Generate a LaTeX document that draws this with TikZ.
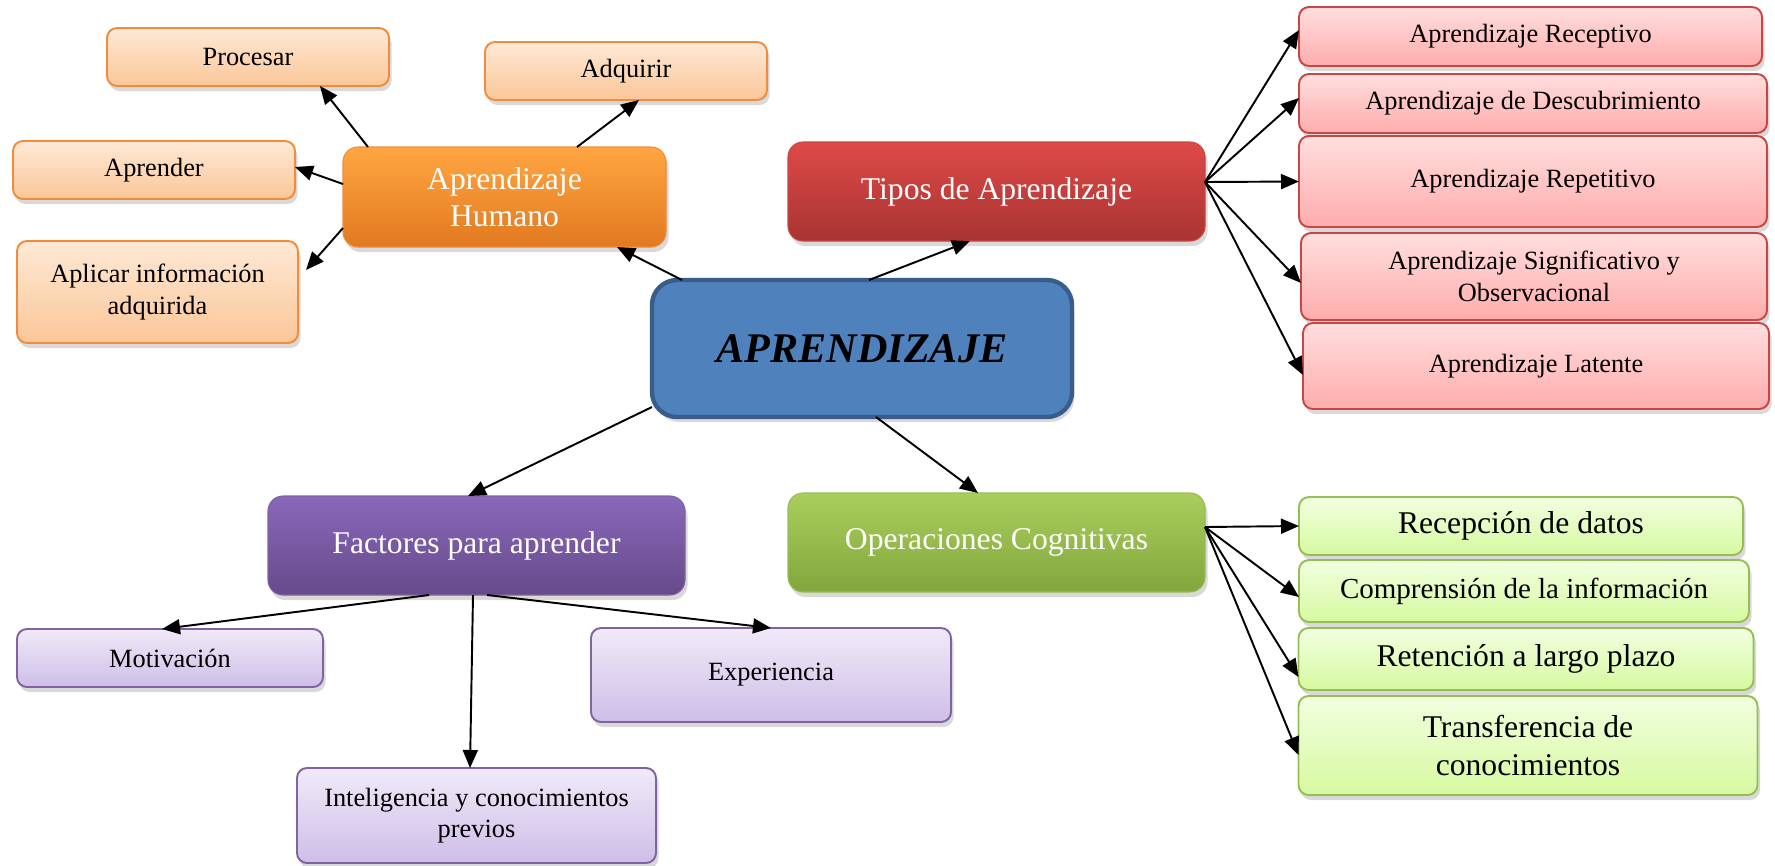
\documentclass[tikz,border=0pt]{standalone}
\usepackage{fontspec}
\setmainfont{Liberation Serif}
\usetikzlibrary{arrows.meta,shadows}

\definecolor{orHi}{RGB}{255,166,66}
\definecolor{orLo}{RGB}{226,121,32}
\definecolor{orLine}{RGB}{240,140,60}
\definecolor{orLeafHi}{RGB}{254,233,214}
\definecolor{orLeafLo}{RGB}{251,198,152}
\definecolor{rdHi}{RGB}{222,74,72}
\definecolor{rdLo}{RGB}{168,52,50}
\definecolor{rdLine}{RGB}{200,70,68}
\definecolor{rdLeafHi}{RGB}{255,222,222}
\definecolor{rdLeafLo}{RGB}{255,172,172}
\definecolor{puHi}{RGB}{138,104,186}
\definecolor{puLo}{RGB}{102,74,138}
\definecolor{puLine}{RGB}{128,100,162}
\definecolor{puLeafHi}{RGB}{240,234,248}
\definecolor{puLeafLo}{RGB}{206,190,232}
\definecolor{grHi}{RGB}{170,206,92}
\definecolor{grLo}{RGB}{130,166,60}
\definecolor{grLine}{RGB}{150,190,85}
\definecolor{grLeafHi}{RGB}{242,255,224}
\definecolor{grLeafLo}{RGB}{214,249,160}
\definecolor{blFill}{RGB}{79,129,189}
\definecolor{blLine}{RGB}{56,93,138}

\begin{document}
\begin{tikzpicture}[x=0.2mm, y=-0.2mm,
	base/.style={shape=rectangle, inner sep=0pt, outer sep=0pt, align=center,
		drop shadow={shadow xshift=0.5mm, shadow yshift=-1mm, opacity=0.3}},
	hub/.style={base, rounded corners=3mm, line width=0.6pt, text=white,
		font=\fontsize{18}{21}\selectfont, minimum width=83.4mm, minimum height=19.8mm},
	leaf/.style={base, rounded corners=2mm, line width=1.1pt, text=black,
		font=\fontsize{15}{18}\selectfont},
	orhub/.style={hub, top color=orHi, bottom color=orLo, draw=orLine},
	orleaf/.style={leaf, top color=orLeafHi, bottom color=orLeafLo, draw=orLine},
	rdhub/.style={hub, top color=rdHi, bottom color=rdLo, draw=rdLine},
	rdleaf/.style={leaf, top color=rdLeafHi, bottom color=rdLeafLo, draw=rdLine},
	puhub/.style={hub, top color=puHi, bottom color=puLo, draw=puLine},
	puleaf/.style={leaf, top color=puLeafHi, bottom color=puLeafLo, draw=puLine},
	grhub/.style={hub, top color=grHi, bottom color=grLo, draw=grLine},
	grleaf/.style={leaf, top color=grLeafHi, bottom color=grLeafLo, draw=grLine,
		font=\fontsize{18}{22}\selectfont},
	arr/.style={-{Triangle[length=3.6mm,width=3mm]}, line width=1.1pt}]
	\useasboundingbox (0,0) rectangle (1775,865);

	\node [base, rounded corners=5mm, fill=blFill, draw=blLine, line width=2.5pt,
		minimum width=84mm, minimum height=27.4mm,
		font=\fontsize{24}{28}\selectfont\bfseries\itshape] (cen) at (862,348.5) {APRENDIZAJE};

	\node [orhub, minimum width=64.6mm, minimum height=20mm] (hum) at (504.5,197) {Aprendizaje\\Humano};
	\node [rdhub] (tipos) at (996.5,191.5) {Tipos de Aprendizaje};
	\node [puhub] (fac) at (476.5,545.5) {Factores para aprender};
	\node [grhub] (ope) at (996.5,542.5) {Operaciones Cognitivas};

	\node [orleaf, minimum width=56.4mm, minimum height=11.6mm] (pro) at (248,57) {Procesar};
	\node [orleaf, minimum width=56.4mm, minimum height=11.6mm] (adq) at (626,71) {Adquirir};
	\node [orleaf, minimum width=56.4mm, minimum height=11.6mm] (apr) at (154,170) {Aprender};
	\node [orleaf, minimum width=56.2mm, minimum height=20.4mm] (apl) at (157.5,292) {Aplicar información\\adquirida};

	\node [rdleaf, minimum width=92.6mm, minimum height=11.8mm] (rec) at (1530.5,36.5) {Aprendizaje Receptivo};
	\node [rdleaf, minimum width=93.6mm, minimum height=11.8mm] (des) at (1533,103.5) {Aprendizaje de Descubrimiento};
	\node [rdleaf, minimum width=93.6mm, minimum height=18.2mm] (rep) at (1533,181.5) {Aprendizaje Repetitivo};
	\node [rdleaf, minimum width=93.2mm, minimum height=17.4mm] (sig) at (1534,276.5) {Aprendizaje Significativo y\\Observacional};
	\node [rdleaf, minimum width=93.2mm, minimum height=17.2mm] (lat) at (1536,366) {Aprendizaje Latente};

	\node [puleaf, minimum width=61.2mm, minimum height=11.6mm] (mot) at (170,658) {Motivación};
	\node [puleaf, minimum width=72mm, minimum height=18.8mm] (exp) at (771,675) {Experiencia};
	\node [puleaf, minimum width=71.8mm, minimum height=19mm] (int) at (476.5,815.5) {Inteligencia y conocimientos\\previos};

	\node [grleaf, minimum width=88.8mm, minimum height=11.6mm] (rcp) at (1521,526) {\raisebox{-1mm}{Recepción de datos}};
	\node [grleaf, minimum width=90mm, minimum height=12.4mm, font=\fontsize{16.5}{20}\selectfont] (com) at (1524,591) {Comprensión de la información};
	\node [grleaf, minimum width=91mm, minimum height=12.4mm] (ret) at (1526,659) {Retención a largo plazo};
	\node [grleaf, minimum width=91.8mm, minimum height=19.8mm] (tra) at (1528,745.5) {Transferencia de\\conocimientos};

	\draw [arr] ([xshift=-36mm]cen.north) to ([xshift=22.5mm]hum.south);
	\draw [arr] ([xshift=1.4mm]cen.north) to ([xshift=-5.3mm]tipos.south);
	\draw [arr] ([yshift=-11.7mm]cen.west) to ([xshift=-1.7mm]fac.north);
	\draw [arr] ([xshift=2.8mm]cen.south) to ([xshift=-3.7mm]ope.north);

	\draw [arr] ([xshift=-27.3mm]hum.north) to ([xshift=14.4mm]pro.south);
	\draw [arr] ([xshift=14.5mm]hum.north) to ([xshift=2.6mm]adq.south);
	\draw [arr] ([yshift=2.6mm]hum.west) to ([yshift=0.6mm]apr.east);
	\draw [arr] ([yshift=-6.2mm]hum.west) to ([xshift=1.6mm,yshift=4.4mm]apl.east);

	\draw [arr] ([yshift=1.9mm]tipos.east) to ([yshift=1.3mm]rec.west);
	\draw [arr] ([yshift=1.9mm]tipos.east) to ([yshift=1.1mm]des.west);
	\draw [arr] ([yshift=1.9mm]tipos.east) to (rep.west);
	\draw [arr] ([yshift=1.9mm]tipos.east) to ([yshift=-1.3mm]sig.west);
	\draw [arr] ([yshift=1.9mm]tipos.east) to ([yshift=-1.8mm]lat.west);

	\draw [arr] ([yshift=3.1mm]ope.east) to (rcp.west);
	\draw [arr] ([yshift=3.1mm]ope.east) to ([yshift=-1.2mm]com.west);
	\draw [arr] ([yshift=3.1mm]ope.east) to ([yshift=-3.6mm]ret.west);
	\draw [arr] ([yshift=3.1mm]ope.east) to ([yshift=-1.9mm]tra.west);

	\draw [arr] ([xshift=-9.5mm]fac.south) to ([xshift=-1.6mm]mot.north);
	\draw [arr] ([xshift=2.1mm]fac.south) to (exp.north);
	\draw [arr] ([xshift=-0.7mm]fac.south) to ([xshift=-1.3mm]int.north);
\end{tikzpicture}
\end{document}
